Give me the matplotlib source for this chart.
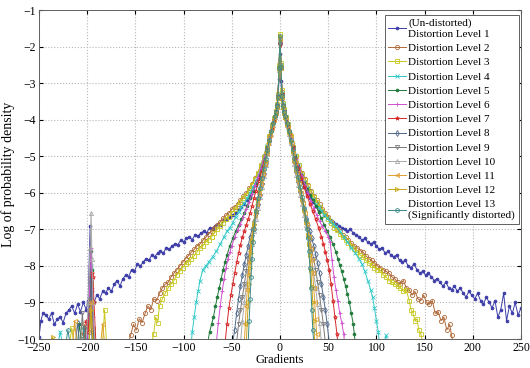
import numpy as np
import matplotlib.pyplot as plt

plt.rcParams['font.family'] = ['Liberation Serif', 'DejaVu Serif']

# legend labels, colours and markers (MATLAB-like)
LABELS = ['(Un-distorted)\nDistortion Level 1'] + \
         ['Distortion Level %d' % i for i in range(2, 13)] + \
         ['Distortion Level 13\n(Significantly distorted)']
COLORS = ['#3c3ca8', '#b06a3a', '#c8c820', '#30c8c8', '#207a3a', '#d050d0', '#d82828',
          '#50688a', '#787878', '#a8a8a8', '#e0a030', '#c8a818', '#3a8a8a']
MARKERS = ['.', 'o', 's', 'x', '.', '+', '*', 'd', 'v', '^', '<', '>', 'h']

# (gradient, log density)
lvl1 = [(-250, -9.95), (-248, -9.5), (-246, -9.3), (-243, -9.35), (-240, -9.45), (-237, -9.3),
        (-234, -9.6), (-231, -9.45), (-228, -9.4), (-225, -9.55), (-222, -9.3), (-219, -9.2),
        (-216, -9.1), (-213, -9.3), (-210, -9.05), (-207, -9.25), (-204, -9.0), (-201, -9.2),
        (-199, -8.95), (-197, -6.9), (-195, -8.7), (-193, -9.0), (-190, -8.8), (-187, -8.9),
        (-184, -8.7), (-181, -8.75), (-178, -8.6), (-175, -8.7), (-172, -8.5), (-169, -8.4),
        (-166, -8.55), (-163, -8.35), (-160, -8.25), (-157, -8.3), (-154, -8.1), (-151, -8.15),
        (-148, -7.95), (-145, -8.0), (-142, -7.9), (-139, -7.8), (-136, -7.85), (-133, -7.7),
        (-130, -7.75), (-127, -7.65), (-124, -7.6), (-121, -7.65), (-118, -7.5), (-115, -7.55),
        (-112, -7.45), (-109, -7.4), (-106, -7.42), (-103, -7.3), (-100, -7.35), (-97, -7.25),
        (-94, -7.22), (-91, -7.28), (-88, -7.15), (-85, -7.18), (-82, -7.1), (-79, -7.05),
        (-76, -7.1), (-73, -6.95), (-70, -6.98), (-67, -6.9), (-64, -6.85), (-61, -6.88),
        (-58, -6.75), (-55, -6.72), (-52, -6.65), (-49, -6.6), (-46, -6.55), (-43, -6.45),
        (-40, -6.4), (-37, -6.3), (-34, -6.2), (-31, -6.1), (-28, -5.95), (-25, -5.8),
        (-22, -5.6), (-19, -5.35), (-16, -5.1), (-13, -4.8), (-10, -4.45), (-8, -4.2),
        (-6, -4.0), (-4, -3.8), (-3, -3.65), (-2, -3.4), (-1, -2.9), (0, -2.2),
        (1, -2.95), (2, -3.45), (3, -3.7), (4, -3.85), (6, -4.05), (8, -4.25), (10, -4.5),
        (13, -4.85), (16, -5.15), (19, -5.4), (22, -5.65), (25, -5.85), (28, -6.0), (31, -6.15),
        (34, -6.25), (37, -6.35), (40, -6.45), (43, -6.5), (46, -6.6), (49, -6.65), (52, -6.75),
        (55, -6.8), (58, -6.85), (61, -6.9), (64, -6.95), (67, -7.0), (70, -7.05), (73, -7.0),
        (76, -7.1), (79, -7.15), (82, -7.2), (85, -7.3), (88, -7.25), (91, -7.35), (94, -7.4),
        (97, -7.35), (100, -7.45), (103, -7.55), (106, -7.5), (109, -7.65), (112, -7.6),
        (115, -7.7), (118, -7.75), (121, -7.7), (124, -7.85), (127, -7.9), (130, -7.85),
        (133, -8.0), (136, -8.05), (139, -7.95), (142, -8.1), (145, -8.2), (148, -8.15),
        (151, -8.25), (154, -8.2), (157, -8.3), (160, -8.4), (163, -8.35), (166, -8.45),
        (169, -8.55), (172, -8.45), (175, -8.6), (178, -8.65), (181, -8.55), (184, -8.7),
        (187, -8.6), (190, -8.75), (193, -8.85), (196, -8.7), (199, -8.8), (202, -8.9),
        (205, -8.75), (208, -8.95), (211, -9.05), (214, -8.85), (217, -9.0), (220, -9.15),
        (223, -8.95), (226, -9.4), (229, -9.2), (232, -8.75), (235, -9.5), (238, -9.1),
        (241, -9.3), (244, -9.0), (247, -9.35), (250, -9.15)]

lvl2 = [(-158, -10.2), (-155, -9.9), (-152, -9.6), (-149, -9.75), (-146, -9.45), (-143, -9.55),
        (-140, -9.3), (-137, -9.1), (-134, -9.2), (-131, -8.9), (-128, -8.95), (-125, -8.75),
        (-122, -8.6), (-119, -8.5), (-116, -8.45), (-113, -8.3), (-110, -8.2), (-107, -8.1),
        (-104, -8.0), (-101, -7.9), (-98, -7.8), (-95, -7.72), (-92, -7.62), (-89, -7.55),
        (-86, -7.45), (-83, -7.4), (-80, -7.3), (-77, -7.22), (-74, -7.12), (-71, -7.05),
        (-68, -6.95), (-65, -6.88), (-62, -6.8), (-59, -6.7), (-56, -6.62), (-53, -6.55),
        (-50, -6.45), (-47, -6.38), (-44, -6.3), (-41, -6.2), (-38, -6.1), (-35, -6.0),
        (-32, -5.88), (-29, -5.75), (-26, -5.6), (-23, -5.45), (-20, -5.25), (-17, -5.0),
        (-14, -4.75), (-11, -4.45), (-8, -4.15), (-6, -3.95), (-4, -3.75), (-3, -3.6),
        (-2, -3.3), (-1, -2.55), (0, -1.9), (1, -2.5), (2, -3.25), (3, -3.55), (4, -3.72),
        (6, -3.92), (8, -4.12), (11, -4.45), (14, -4.75), (17, -5.0), (20, -5.25), (23, -5.45),
        (26, -5.62), (29, -5.8), (32, -5.95), (35, -6.08), (38, -6.2), (41, -6.32), (44, -6.45),
        (47, -6.55), (50, -6.65), (53, -6.78), (56, -6.88), (59, -6.98), (62, -7.05),
        (65, -7.15), (68, -7.2), (71, -7.3), (74, -7.38), (77, -7.45), (80, -7.5), (83, -7.58),
        (86, -7.62), (89, -7.72), (92, -7.8), (95, -7.85), (98, -7.92), (101, -8.0),
        (104, -8.05), (107, -8.1), (110, -8.15), (113, -8.2), (116, -8.3), (119, -8.35),
        (122, -8.45), (125, -8.5), (128, -8.4), (131, -8.6), (134, -8.65), (137, -8.8),
        (140, -8.7), (143, -8.9), (146, -8.95), (149, -8.8), (152, -9.0), (155, -9.05),
        (158, -8.95), (161, -9.3), (164, -9.25), (167, -9.5), (170, -9.4), (173, -9.75),
        (176, -9.6), (178, -9.9), (180, -10.2)]

lvl3 = [(-133, -10.1), (-131, -9.85), (-129, -9.4), (-127, -9.55), (-125, -9.1), (-122, -8.9),
        (-119, -8.75), (-116, -8.6), (-113, -8.5), (-110, -8.4), (-107, -8.25), (-104, -8.15),
        (-101, -8.05), (-98, -7.95), (-95, -7.88), (-92, -7.8), (-89, -7.72), (-86, -7.62),
        (-83, -7.52), (-80, -7.45), (-77, -7.35), (-74, -7.28), (-71, -7.2), (-68, -7.1),
        (-65, -7.0), (-62, -6.92), (-59, -6.82), (-56, -6.72), (-53, -6.65), (-50, -6.55),
        (-47, -6.45), (-44, -6.35), (-41, -6.25), (-38, -6.15), (-35, -6.05), (-32, -5.92),
        (-29, -5.78), (-26, -5.62), (-23, -5.45), (-20, -5.25), (-17, -5.02), (-14, -4.75),
        (-11, -4.45), (-8, -4.15), (-6, -3.95), (-4, -3.75), (-3, -3.58), (-2, -3.3),
        (-1, -2.5), (0, -1.65), (1, -2.45), (2, -3.2), (3, -3.55), (4, -3.72), (6, -3.92),
        (8, -4.12), (11, -4.45), (14, -4.75), (17, -5.0), (20, -5.25), (23, -5.48), (26, -5.65),
        (29, -5.82), (32, -5.98), (35, -6.12), (38, -6.25), (41, -6.38), (44, -6.5), (47, -6.6),
        (50, -6.72), (53, -6.82), (56, -6.95), (59, -7.02), (62, -7.12), (65, -7.22),
        (68, -7.3), (71, -7.38), (74, -7.45), (77, -7.55), (80, -7.62), (83, -7.7), (86, -7.75),
        (89, -7.85), (92, -7.92), (95, -7.98), (98, -8.05), (101, -8.1), (104, -8.12),
        (107, -8.25), (110, -8.3), (113, -8.4), (116, -8.45), (119, -8.5), (122, -8.55),
        (125, -8.6), (128, -8.7), (131, -8.65), (134, -8.95), (136, -9.2), (138, -9.3),
        (140, -9.5), (142, -9.45), (144, -9.75), (146, -9.85), (148, -10.1)]

lvl4 = [(-92, -10.1), (-91, -9.8), (-89, -9.4), (-87, -9.0), (-85, -8.7), (-83, -8.4),
        (-80, -8.1), (-77, -8.0), (-74, -7.9), (-70, -7.75), (-66, -7.6), (-62, -7.4),
        (-58, -7.2), (-55, -7.05), (-52, -6.95), (-49, -6.82), (-46, -6.65), (-43, -6.52),
        (-40, -6.4), (-37, -6.28), (-34, -6.15), (-31, -6.0), (-28, -5.85), (-25, -5.68),
        (-22, -5.5), (-19, -5.25), (-16, -5.0), (-13, -4.72), (-10, -4.4), (-8, -4.18),
        (-6, -3.98), (-4, -3.78), (-3, -3.6), (-2, -3.32), (-1, -2.55), (0, -1.8), (1, -2.5),
        (2, -3.28), (3, -3.58), (4, -3.75), (6, -3.95), (8, -4.15), (10, -4.38), (13, -4.7),
        (16, -4.98), (19, -5.25), (22, -5.5), (25, -5.7), (28, -5.88), (31, -6.05), (34, -6.18),
        (37, -6.3), (40, -6.4), (43, -6.5), (46, -6.6), (49, -6.7), (52, -6.78), (55, -6.85),
        (58, -6.92), (62, -7.05), (66, -7.2), (70, -7.35), (74, -7.5), (78, -7.65), (82, -7.8),
        (85, -7.95), (88, -8.15), (91, -8.4), (94, -8.65), (96, -8.85), (98, -9.15),
        (100, -9.5), (102, -9.8), (103, -10.1)]

lvl5 = [(-75, -10.1), (-73, -9.8), (-71, -9.6), (-69, -9.4), (-67, -9.1), (-65, -8.85),
        (-63, -8.6), (-61, -8.35), (-59, -8.1), (-57, -7.9), (-55, -7.7), (-52, -7.45),
        (-49, -7.25), (-46, -7.05), (-43, -6.88), (-40, -6.72), (-37, -6.55), (-34, -6.35),
        (-31, -6.15), (-28, -5.95), (-25, -5.75), (-22, -5.55), (-19, -5.3), (-16, -5.05),
        (-13, -4.75), (-10, -4.42), (-8, -4.2), (-6, -4.0), (-4, -3.8), (-3, -3.62),
        (-2, -3.35), (-1, -2.6), (0, -1.85), (1, -2.55), (2, -3.3), (3, -3.6), (4, -3.78),
        (6, -3.98), (8, -4.18), (10, -4.4), (13, -4.72), (16, -5.0), (19, -5.28), (22, -5.52),
        (25, -5.72), (28, -5.9), (31, -6.05), (34, -6.2), (37, -6.35), (40, -6.52), (43, -6.7),
        (46, -6.88), (49, -7.05), (52, -7.22), (55, -7.4), (58, -7.62), (60, -7.8), (62, -7.98),
        (64, -8.15), (66, -8.35), (68, -8.55), (70, -8.78), (72, -9.0), (74, -9.3), (76, -9.6),
        (77, -9.85), (78, -10.1)]

lvl6 = [(-66, -10.1), (-64, -9.55), (-62, -9.1), (-60, -8.7), (-58, -8.35), (-56, -8.05),
        (-54, -7.8), (-52, -7.62), (-50, -7.45), (-47, -7.22), (-44, -7.02), (-41, -6.85),
        (-38, -6.65), (-35, -6.45), (-32, -6.25), (-29, -6.02), (-26, -5.8), (-23, -5.58),
        (-20, -5.35), (-17, -5.1), (-14, -4.82), (-11, -4.5), (-8, -4.18), (-6, -3.98),
        (-4, -3.78), (-3, -3.6), (-2, -3.32), (-1, -2.58), (0, -1.9), (1, -2.52), (2, -3.3),
        (3, -3.6), (4, -3.78), (6, -3.98), (8, -4.18), (11, -4.5), (14, -4.8), (17, -5.08),
        (20, -5.32), (23, -5.55), (26, -5.78), (29, -6.0), (32, -6.22), (35, -6.42), (38, -6.6),
        (41, -6.78), (44, -6.92), (47, -7.05), (50, -7.2), (52, -7.35), (54, -7.85), (56, -8.3),
        (58, -8.65), (60, -8.95), (62, -9.3), (64, -9.55), (66, -9.85), (67, -10.1)]

lvl7 = [(-57, -10.1), (-55, -9.6), (-53, -9.15), (-51, -8.8), (-49, -8.5), (-47, -8.2),
        (-45, -7.9), (-43, -7.65), (-41, -7.42), (-39, -7.22), (-37, -7.05), (-35, -6.88),
        (-33, -6.72), (-31, -6.55), (-29, -6.35), (-27, -6.15), (-25, -5.95), (-22, -5.68),
        (-19, -5.4), (-16, -5.12), (-13, -4.8), (-10, -4.45), (-8, -4.22), (-6, -4.0),
        (-4, -3.8), (-3, -3.62), (-2, -3.35), (-1, -2.6), (0, -1.95), (1, -2.55), (2, -3.3),
        (3, -3.6), (4, -3.8), (6, -4.0), (8, -4.2), (10, -4.42), (13, -4.75), (16, -5.05),
        (19, -5.32), (22, -5.6), (25, -5.85), (28, -6.08), (31, -6.3), (34, -6.5), (37, -6.72),
        (40, -6.95), (43, -7.2), (45, -7.4), (47, -7.62), (49, -7.85), (51, -8.1), (53, -8.5),
        (55, -8.95), (57, -9.4), (59, -9.85), (60, -10.1)]

lvl8 = [(-49, -10.1), (-47, -9.75), (-45, -9.3), (-43, -8.9), (-41, -8.55), (-39, -8.25),
        (-37, -7.95), (-35, -7.7), (-33, -7.45), (-31, -7.2), (-29, -7.0), (-27, -6.78),
        (-25, -6.55), (-23, -6.3), (-21, -6.05), (-19, -5.75), (-17, -5.48), (-15, -5.2),
        (-13, -4.9), (-11, -4.6), (-9, -4.32), (-7, -4.1), (-5, -3.9), (-4, -3.8), (-3, -3.62),
        (-2, -3.35), (-1, -2.6), (0, -1.9), (1, -2.55), (2, -3.32), (3, -3.62), (4, -3.8),
        (5, -3.9), (7, -4.1), (9, -4.32), (11, -4.6), (13, -4.88), (15, -5.15), (17, -5.42),
        (19, -5.7), (21, -5.98), (23, -6.22), (25, -6.45), (27, -6.68), (29, -6.88), (31, -7.05),
        (33, -7.25), (35, -7.45), (37, -7.68), (39, -7.92), (41, -8.2), (43, -8.5), (45, -8.85),
        (47, -9.2), (49, -9.6), (51, -10.1)]

lvl9 = [(-45, -10.1), (-43, -9.6), (-41, -9.2), (-39, -8.85), (-37, -8.5), (-35, -8.15),
        (-33, -7.8), (-31, -7.5), (-29, -7.2), (-27, -6.92), (-25, -6.62), (-23, -6.35),
        (-21, -6.08), (-19, -5.8), (-17, -5.5), (-15, -5.22), (-13, -4.92), (-11, -4.62),
        (-9, -4.35), (-7, -4.12), (-5, -3.92), (-4, -3.8), (-3, -3.62), (-2, -3.38), (-1, -2.62),
        (0, -1.85), (1, -2.6), (2, -3.35), (3, -3.62), (4, -3.8), (5, -3.92), (7, -4.12),
        (9, -4.35), (11, -4.62), (13, -4.9), (15, -5.18), (17, -5.45), (19, -5.72), (21, -6.0),
        (23, -6.25), (25, -6.52), (27, -6.78), (29, -7.02), (31, -7.28), (33, -7.55),
        (35, -7.82), (37, -8.1), (39, -8.45), (41, -8.8), (43, -9.2), (45, -9.6), (47, -10.1)]

lvl10 = [(-41, -10.1), (-39, -9.5), (-37, -9.0), (-35, -8.55), (-33, -8.15), (-31, -7.75),
         (-29, -7.4), (-27, -7.05), (-25, -6.72), (-23, -6.42), (-21, -6.12), (-19, -5.85),
         (-17, -5.55), (-15, -5.25), (-13, -4.95), (-11, -4.65), (-9, -4.38), (-7, -4.15),
         (-5, -3.92), (-4, -3.8), (-3, -3.65), (-2, -3.4), (-1, -2.65), (0, -1.75), (1, -2.6),
         (2, -3.38), (3, -3.65), (4, -3.8), (5, -3.92), (7, -4.15), (9, -4.38), (11, -4.65),
         (13, -4.92), (15, -5.2), (17, -5.5), (19, -5.78), (21, -6.05), (23, -6.32), (25, -6.6),
         (27, -6.88), (29, -7.18), (31, -7.5), (33, -7.82), (35, -8.2), (37, -8.6), (39, -9.05),
         (41, -9.55), (43, -10.1)]

lvl11 = [(-37, -10.1), (-36, -9.6), (-35, -9.1), (-34, -8.65), (-33, -8.25), (-32, -7.9),
         (-31, -7.6), (-30, -7.35), (-28, -6.95), (-26, -6.6), (-24, -6.3), (-22, -6.02),
         (-20, -5.75), (-18, -5.48), (-16, -5.2), (-14, -4.92), (-12, -4.65), (-10, -4.42),
         (-8, -4.22), (-6, -4.02), (-4, -3.82), (-3, -3.65), (-2, -3.4), (-1, -2.62), (0, -1.8),
         (1, -2.6), (2, -3.38), (3, -3.65), (4, -3.82), (6, -4.02), (8, -4.22), (10, -4.42),
         (12, -4.65), (14, -4.9), (16, -5.18), (18, -5.45), (20, -5.72), (22, -6.0), (24, -6.28),
         (26, -6.55), (28, -6.85), (30, -7.2), (32, -7.55), (33, -7.85), (34, -8.2), (35, -8.6),
         (36, -9.0), (37, -9.45), (38, -9.85), (39, -10.1)]

lvl12 = [(-35, -10.1), (-34, -9.55), (-33, -9.0), (-32, -8.5), (-31, -8.05), (-30, -7.65),
         (-29, -7.3), (-27, -6.85), (-25, -6.5), (-23, -6.2), (-21, -5.92), (-19, -5.65),
         (-17, -5.38), (-15, -5.12), (-13, -4.85), (-11, -4.58), (-9, -4.35), (-7, -4.12),
         (-5, -3.92), (-4, -3.82), (-3, -3.65), (-2, -3.4), (-1, -2.6), (0, -1.7), (1, -2.58),
         (2, -3.38), (3, -3.65), (4, -3.82), (5, -3.92), (7, -4.12), (9, -4.35), (11, -4.58),
         (13, -4.85), (15, -5.1), (17, -5.35), (19, -5.62), (21, -5.9), (23, -6.18), (25, -6.48),
         (27, -6.8), (29, -7.15), (30, -7.4), (31, -7.7), (32, -8.1), (33, -8.55), (34, -9.0),
         (35, -9.5), (36, -10.1)]

lvl13 = [(-33, -10.1), (-32, -9.5), (-31, -8.9), (-30, -8.3), (-29, -7.8), (-28, -7.35),
         (-27, -7.0), (-25, -6.5), (-23, -6.15), (-21, -5.88), (-19, -5.6), (-17, -5.35),
         (-15, -5.08), (-13, -4.82), (-11, -4.55), (-9, -4.32), (-7, -4.1), (-5, -3.9),
         (-4, -3.8), (-3, -3.62), (-2, -3.38), (-1, -2.58), (0, -1.72), (1, -2.55), (2, -3.35),
         (3, -3.62), (4, -3.8), (5, -3.9), (7, -4.1), (9, -4.32), (11, -4.55), (13, -4.8),
         (15, -5.05), (17, -5.32), (19, -5.58), (21, -5.85), (23, -6.12), (25, -6.42),
         (27, -6.75), (28, -6.98), (29, -7.25), (30, -7.6), (31, -8.05), (32, -8.6), (33, -9.2),
         (34, -9.75), (35, -10.1)]

# isolated bits near gradient -200 (None = gap)
far2 = [(-205, -9.9), (-203, -9.6), (-201, -10.1), None, (-198, -9.8), (-196, -9.0), (-194, -9.7), (-192, -10.1)]
far3 = [(-218, -10.1), (-216, -9.7), (-214, -10.1), None, (-197, -9.3), (-196, -8.5), (-195, -9.3),
        (-193, -10.1), None, (-184, -10.1), (-182, -9.2), (-180, -10.1)]
far4 = [(-230, -10.1), (-228, -9.8), (-226, -10.1), None, (-198, -10.1), (-196, -8.0), (-194, -10.1)]
far5 = [(-210, -10.1), (-208, -9.6), (-206, -10.1), None, (-199, -9.6), (-197, -8.3), (-196, -7.6),
        (-195, -8.1), (-193, -10.1)]
far6 = [(-200, -10.1), (-198, -9.2), (-197, -8.0), (-196, -7.5), (-195, -8.6), (-194, -9.4), (-192, -10.1)]
far7 = [(-203, -10.1), (-201, -9.5), (-199, -9.8), (-197, -9.0), (-195, -8.2), (-194, -8.3),
        (-193, -9.0), (-191, -10.1)]
far8 = [(-212, -10.1), (-210, -9.55), (-208, -10.1), None, (-198, -10.1), (-196, -8.4), (-194, -10.1)]
far9 = [(-207, -10.1), (-205, -9.3), (-203, -10.1), None, (-198, -10.1), (-197, -8.9), (-195, -10.1)]
far10 = [(-201, -10.1), (-199, -9.0), (-197, -7.5), (-196, -6.55), (-195, -7.8), (-194, -9.0), (-192, -10.1)]
far11 = [(-215, -10.1), (-213, -9.5), (-211, -10.1), None, (-198, -10.1), (-196, -9.0), (-194, -10.1),
         None, (-186, -10.1), (-184, -9.6), (-182, -10.1)]
far12 = [(-238, -10.1), (-236, -9.95), (-234, -10.1), None, (-198, -10.1), (-196, -9.2), (-194, -10.1)]
far13 = [(-222, -10.1), (-220, -9.75), (-218, -10.1), None, (-205, -10.1), (-203, -9.7), (-201, -10.1)]
far4b = [(108, -10.1), (110, -9.9), (112, -10.1)]

MAIN = [lvl1, lvl2, lvl3, lvl4, lvl5, lvl6, lvl7, lvl8, lvl9, lvl10, lvl11, lvl12, lvl13]
FAR = [[], far2, far3, far4 + [None] + far4b, far5, far6, far7, far8, far9, far10, far11, far12, far13]

fig = plt.figure(figsize=(5.3, 3.68), dpi=100)
ax = fig.add_axes([0.0736, 0.0788, 0.9094, 0.894])

for i in range(13):
    pts = FAR[i] + [None] + MAIN[i] if FAR[i] else MAIN[i]
    xs = [np.nan if p is None else p[0] for p in pts]
    ys = [np.nan if p is None else p[1] for p in pts]
    ms = 4 if MARKERS[i] == '.' else 3
    ax.plot(xs, ys, color=COLORS[i], marker=MARKERS[i], markersize=ms,
            markerfacecolor='none' if MARKERS[i] != '.' else COLORS[i],
            markeredgewidth=0.6, linewidth=0.7, label=LABELS[i])

ax.set_xlim(-250, 250)
ax.set_ylim(-10, -1)
ax.set_xticks(np.arange(-250, 251, 50))
ax.set_yticks(np.arange(-10, -0.5, 1))
ax.grid(True, linestyle=':', color='#b8b8b8', linewidth=0.8)
ax.tick_params(direction='in', top=True, right=True, length=3, labelsize=8.5, pad=2)
for s in ax.spines.values():
    s.set_color('#606060')
    s.set_linewidth(0.7)

ax.set_xlabel('Gradients', fontsize=9, labelpad=0)
ax.set_ylabel('Log of probability density', fontsize=10, labelpad=2)

leg = ax.legend(loc='upper right', bbox_to_anchor=(0.996, 0.985), borderaxespad=0,
                fontsize=8, handlelength=1.6, handletextpad=0.2, labelspacing=0.4,
                borderpad=0.35, fancybox=False, framealpha=1, edgecolor='#606060')
leg.get_frame().set_linewidth(0.7)

fig.savefig('out.png', dpi=100)
